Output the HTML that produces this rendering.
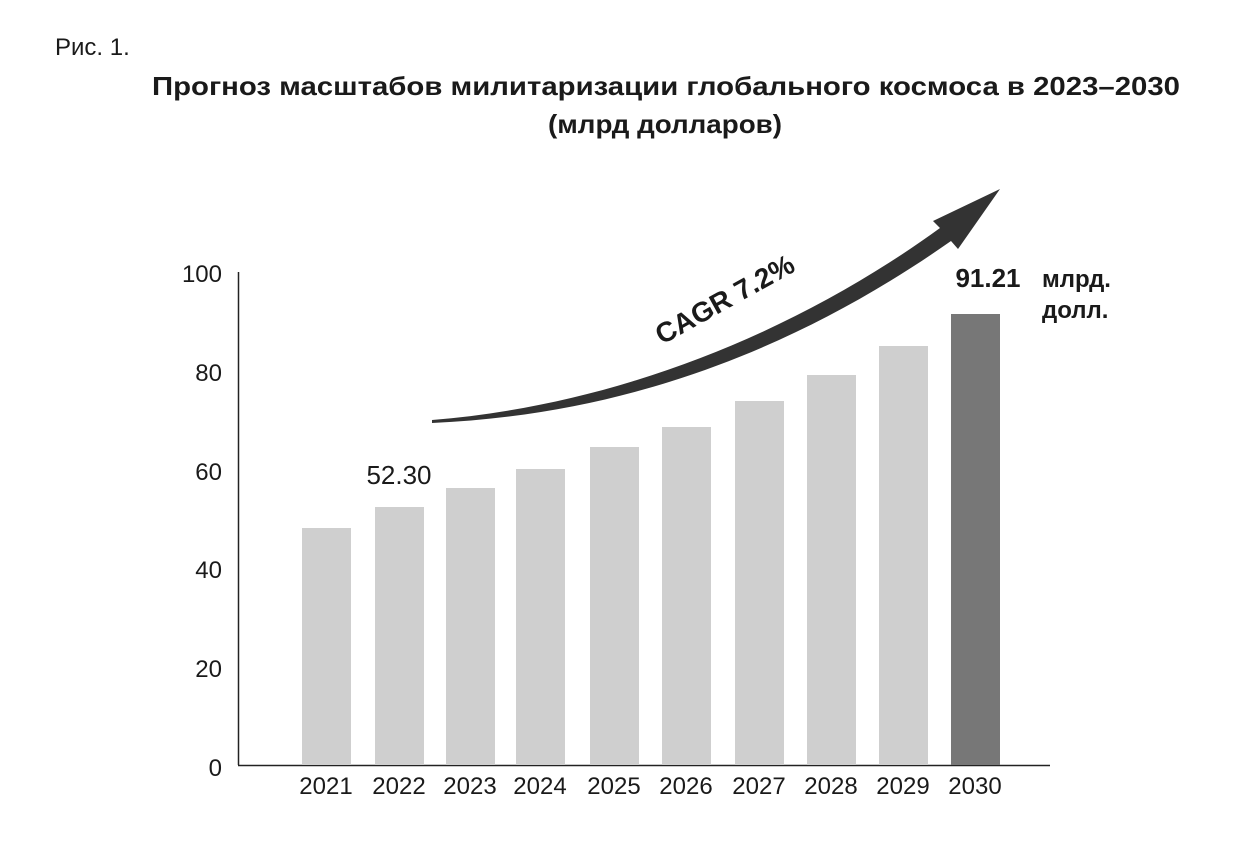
<!DOCTYPE html>
<html><head><meta charset="utf-8"><style>
body{margin:0;background:#fff;}
svg text{font-family:"Liberation Sans",sans-serif;fill:#1a1a1a;}
</style></head><body>
<svg width="1251" height="848" viewBox="0 0 1251 848" xmlns="http://www.w3.org/2000/svg">
<text x="55" y="55" font-size="24">Рис. 1.</text>
<text x="152" y="95" font-size="26" font-weight="bold" textLength="1028" lengthAdjust="spacingAndGlyphs">Прогноз масштабов милитаризации глобального космоса в 2023–2030</text>
<text x="548" y="133" font-size="26" font-weight="bold" textLength="234" lengthAdjust="spacingAndGlyphs">(млрд долларов)</text>
<g font-size="24" text-anchor="end">
<text x="222" y="282">100</text><text x="222" y="381">80</text><text x="222" y="480">60</text>
<text x="222" y="578">40</text><text x="222" y="677">20</text><text x="222" y="776">0</text>
</g>
<line x1="238.5" y1="272" x2="238.5" y2="765" stroke="#222" stroke-width="1.5"/>
<line x1="238" y1="765.5" x2="1050" y2="765.5" stroke="#222" stroke-width="1.5"/>
<g fill="#cfcfcf">
<rect x="302" y="528" width="49" height="237"/>
<rect x="375" y="507" width="49" height="258"/>
<rect x="446" y="488" width="49" height="277"/>
<rect x="516" y="469" width="49" height="296"/>
<rect x="590" y="447" width="49" height="318"/>
<rect x="662" y="427" width="49" height="338"/>
<rect x="735" y="401" width="49" height="364"/>
<rect x="807" y="375" width="49" height="390"/>
<rect x="879" y="346" width="49" height="419"/>
</g>
<rect x="951" y="314" width="49" height="451" fill="#777"/>
<g font-size="24" text-anchor="middle">
<text x="326" y="794">2021</text><text x="399" y="794">2022</text><text x="470" y="794">2023</text>
<text x="540" y="794">2024</text><text x="614" y="794">2025</text><text x="686" y="794">2026</text>
<text x="759" y="794">2027</text><text x="831" y="794">2028</text><text x="903" y="794">2029</text>
<text x="975" y="794">2030</text>
</g>
<text x="399" y="484" font-size="26" text-anchor="middle">52.30</text>
<text x="988" y="287" font-size="26" font-weight="bold" text-anchor="middle">91.21</text>
<text x="1042" y="287" font-size="24" font-weight="bold">млрд.</text>
<text x="1042" y="318" font-size="24" font-weight="bold">долл.</text>
<path d="M432,420 C620,405 800,330 940,228 L933,221 L1000,189 L958,249 L951,241 C810,340 640,414 432,423 Z" fill="#333"/>
<text x="0" y="0" font-size="28" font-weight="bold" transform="translate(662,345) rotate(-29)">CAGR 7.2%</text>
</svg>
</body></html>
